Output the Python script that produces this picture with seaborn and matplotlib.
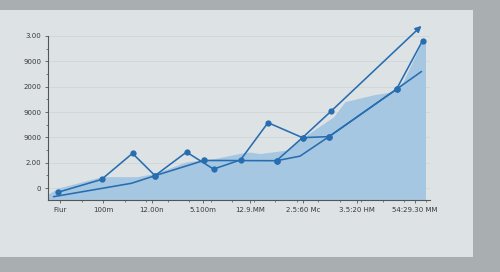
import numpy as np
import pandas as pd
import seaborn as sns
import matplotlib.pyplot as plt
from matplotlib.patches import Rectangle
from matplotlib.ticker import AutoMinorLocator

# axis labels
x_labels = ["Flur", "100m", "12.00n", "5.100m", "12.9.MM", "2.5:60 Mc", "3.5:20 HM", "54:29.30 MM"]
x_ticks = [0.24, 1.1, 2.08, 3.1, 4.04, 5.1, 6.18, 7.34]
y_labels = ["0", "2.00", "9000", "9000", "2000", "9000", "3.00"]
y_ticks = [0, 1, 2, 3, 4, 5, 6]

# zigzag series (markers)
zig_x = [0.19, 1.07, 1.69, 2.14, 2.77, 3.31, 3.85, 4.40, 5.09, 5.62, 6.97, 7.49]
zig_y = [-0.17, 0.34, 1.37, 0.49, 1.42, 0.75, 1.11, 2.58, 1.99, 2.03, 3.90, 5.81]

# smoother trend series
trend_x = [0.11, 1.67, 2.14, 3.12, 4.57, 5.04, 5.62, 6.97, 7.47]
trend_y = [-0.34, 0.19, 0.49, 1.09, 1.08, 1.26, 2.03, 3.90, 4.60]
trend_marked = [2, 3, 4, 6, 7]

# arrow series
arrow_x = [4.57, 5.09, 5.66, 7.47]
arrow_y = [1.08, 1.99, 3.03, 6.40]

# shaded area
area_x = [0.0, 0.2, 1.08, 1.78, 2.14, 2.77, 3.30, 3.84, 4.04, 4.24, 4.77, 5.17, 5.71, 5.94,
          6.51, 6.91, 7.1, 7.49, 7.55]
area_y = [-0.24, 0.0, 0.45, 0.45, 0.58, 1.04, 1.15, 1.37, 1.42, 1.36, 1.50, 2.09, 2.81, 3.41,
          3.68, 3.81, 4.20, 5.81, 5.81]

blue = "#276db0"
sns.set_theme(style="ticks")

fig = plt.figure(figsize=(5, 2.72), dpi=100)
fig.patch.set_facecolor("#a9aeb1")
fig.patches.append(Rectangle((0, 0.055), 0.946, 0.908, transform=fig.transFigure,
                             facecolor="#dde2e4", edgecolor="none", zorder=-10))

ax = fig.add_axes([0.096, 0.2647, 0.764, 0.603])
ax.set_facecolor("none")

ax.fill_between(area_x, area_y, -0.47, color="#a6c7e1", lw=0, zorder=1)

sns.lineplot(x=zig_x, y=zig_y, sort=False, color=blue, lw=1.15, marker="o",
             markersize=4.5, markeredgewidth=0, ax=ax, zorder=3)
sns.lineplot(x=trend_x, y=trend_y, sort=False, color=blue, lw=1.15, ax=ax, zorder=3)
sns.scatterplot(x=[trend_x[i] for i in trend_marked], y=[trend_y[i] for i in trend_marked],
                color=blue, s=22, linewidth=0, ax=ax, zorder=4)
sns.lineplot(x=arrow_x[:-1], y=arrow_y[:-1], sort=False, color=blue, lw=1.15, marker="o",
             markersize=4.5, markeredgewidth=0, ax=ax, zorder=3)
ax.annotate("", xy=(arrow_x[-1], arrow_y[-1]), xytext=(arrow_x[-2], arrow_y[-2]),
            arrowprops=dict(arrowstyle="-|>", color=blue, lw=1.15, mutation_scale=9,
                            shrinkA=0, shrinkB=0),
            annotation_clip=False, zorder=5)

ax.set_xlim(0, 7.64)
ax.set_ylim(-0.47, 6.0)
ax.set_xticks(x_ticks)
ax.set_xticklabels(x_labels)
ax.set_yticks(y_ticks)
ax.set_yticklabels(y_labels)
ax.xaxis.set_minor_locator(AutoMinorLocator(2))
ax.yaxis.set_minor_locator(AutoMinorLocator(2))
ax.tick_params(axis="both", which="major", labelsize=5, colors="#555555", labelcolor="#3a3a3a",
               length=2, width=0.6, pad=3)
ax.tick_params(axis="both", which="minor", colors="#555555", length=1.5, width=0.5)
ax.grid(axis="y", which="major", color="#d0d6d9", lw=0.6)
ax.set_axisbelow(True)

for side in ["top", "right"]:
    ax.spines[side].set_visible(False)
for side in ["left", "bottom"]:
    ax.spines[side].set_color("#555555")
    ax.spines[side].set_linewidth(0.8)

fig.savefig("out.png", dpi=100, facecolor=fig.get_facecolor())
